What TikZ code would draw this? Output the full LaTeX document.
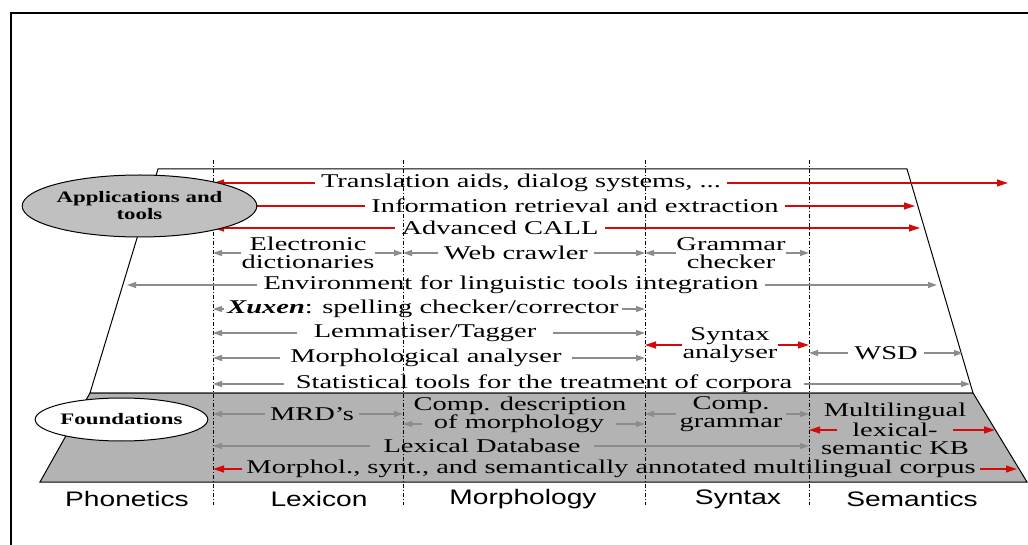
\documentclass[tikz,border=0pt]{standalone}
\usepackage{fontspec}
\setmainfont{Liberation Serif}
\setsansfont{Liberation Sans}
\usetikzlibrary{arrows.meta,shapes.geometric}
\definecolor{rr}{RGB}{210,10,10}
\definecolor{gg}{RGB}{140,140,140}
\definecolor{shadegray}{RGB}{179,179,179}
\definecolor{ellfill}{RGB}{192,192,192}
\begin{document}
\begin{tikzpicture}[x=1pt,y=-1pt,
  txt/.style={font=\fontsize{19.5}{18.5}\selectfont, xscale=1.46, align=center, inner xsep=4pt, inner ysep=1pt},
  lab/.style={font=\sffamily\fontsize{21}{21}\selectfont, xscale=1.34, inner sep=0pt},
  ra/.style={draw=rr, line width=1.2pt, -{Triangle[length=11pt,width=7pt]}},
  ga/.style={draw=gg, line width=1.2pt, -{Triangle[length=9pt,width=6pt]}},
  vl/.style={line width=0.7pt, dash pattern=on 4pt off 2pt on 1pt off 2pt},
  ell/.style={ellipse, draw, line width=1pt, xscale=1.43, inner sep=0pt, align=center, font=\bfseries\fontsize{16}{17}\selectfont}
  ]
\useasboundingbox (0,0) rectangle (1028,545);
% frame
\draw[line width=2pt] (11,545) -- (11,13) -- (1028,13);
% trapezoids
\draw[line width=1pt, fill=white] (158,169) -- (907,169) -- (973,393) -- (90,393) -- cycle;
\draw[line width=1pt, fill=shadegray] (90,393) -- (973,393) -- (1027,482) -- (40,482) -- cycle;
% vertical separators
\coordinate (v1) at (213,160); \coordinate (v1b) at (213,505);
\coordinate (v2) at (403,160); \coordinate (v2b) at (403,505);
\coordinate (v3) at (645,160); \coordinate (v3b) at (645,505);
\coordinate (v4) at (809,160); \coordinate (v4b) at (809,505);
\draw[vl] (v1) -- (v1b);
\draw[vl] (v2) -- (v2b);
\draw[vl] (v3) -- (v3b);
\draw[vl] (v4) -- (v4b);
% free arrow ends (x positions)
\coordinate (e1) at (1008,182);
\coordinate (e2) at (915,205);
\coordinate (e3) at (920,227);
\coordinate (e4) at (127,284);
\coordinate (e5) at (937,284);
\coordinate (e6) at (963,352);
\coordinate (e7) at (970,383);
\coordinate (e8) at (995,429);
\coordinate (e9) at (1017,468);
% texts
\node[txt] (trans) at (521,183) {Translation aids, dialog systems, ...};
\node[txt] (info) at (575,206) {Information retrieval and extraction};
\node[txt] (call) at (500,228) {Advanced CALL};
\node[txt, inner xsep=0pt] (edict) at (308,253) {Electronic\\dictionaries};
\node[txt] (web) at (516,253) {Web crawler};
\node[txt, inner xsep=0pt] (gram) at (731,253) {Grammar\\checker};
\node[txt] (env) at (511,285) {Environment for linguistic tools integration};
\node[txt, inner xsep=2pt] (xux) at (423,309) {\textbf{\textit{Xuxen}}: spelling checker/corrector};
\node[txt, inner xsep=11pt] (lem) at (425,333) {Lemmatiser/Tagger};
\node[txt, inner xsep=7pt] (morph) at (426,358) {Morphological analyser};
\node[txt, inner xsep=0pt] (syn) at (730,345) {Syntax\\analyser};
\node[txt] (wsd) at (886,353) {WSD};
\node[txt, inner xsep=8pt] (stat) at (544,384) {Statistical tools for the treatment of corpora};
\node[txt, inner xsep=3pt] (mrd) at (312,414) {MRD's};
\node[txt] (cd1) at (520,406) {Comp. description};
\node[txt, inner xsep=8pt] (cd2) at (519,424) {of morphology};
\node[txt, inner xsep=2pt] (cg) at (731,414) {Comp.\\grammar};
\node[txt] (ml1) at (895,412) {Multilingual};
\node[txt, inner xsep=10pt] (ml2) at (895,430) {lexical-};
\node[txt] (ml3) at (895,448) {semantic KB};
\node[txt, inner xsep=9pt] (lex) at (482,446) {Lexical Database};
\node[txt, inner xsep=3pt] (corp) at (611,469) {Morphol., synt., and semantically annotated multilingual corpus};
% arrows
\draw[ra] (trans.west) -- (trans.west -| v1);
\draw[ra] (trans.east) -- (trans.east -| e1);
\draw[ra] (info.west) -- (info.west -| v1);
\draw[ra] (info.east) -- (info.east -| e2);
\draw[ra] (call.west) -- (call.west -| v1);
\draw[ra] (call.east) -- (call.east -| e3);
\draw[ga] (edict.west) -- (edict.west -| v1);
\draw[ga] (edict.east) -- (edict.east -| v2);
\draw[ga] (web.west) -- (web.west -| v2);
\draw[ga] (web.east) -- (web.east -| v3);
\draw[ga] (gram.west) -- (gram.west -| v3);
\draw[ga] (gram.east) -- (gram.east -| v4);
\draw[ga] (env.west) -- (env.west -| e4);
\draw[ga] (env.east) -- (env.east -| e5);
\draw[ga] (xux.west) -- (xux.west -| v1);
\draw[ga] (xux.east) -- (xux.east -| v3);
\draw[ga] (lem.west) -- (lem.west -| v1);
\draw[ga] (lem.east) -- (lem.east -| v3);
\draw[ga] (morph.west) -- (morph.west -| v1);
\draw[ga] (morph.east) -- (morph.east -| v3);
\draw[ra] (syn.west) -- (syn.west -| v3);
\draw[ra] (syn.east) -- (syn.east -| v4);
\draw[ga] (wsd.west) -- (wsd.west -| v4);
\draw[ga] (wsd.east) -- (wsd.east -| e6);
\draw[ga] (stat.west) -- (stat.west -| v1);
\draw[ga] (stat.east) -- (stat.east -| e7);
\draw[ga] (mrd.west) -- (mrd.west -| v1);
\draw[ga] (mrd.east) -- (mrd.east -| v2);
\draw[ga] (cd2.west) -- (cd2.west -| v2);
\draw[ga] (cd2.east) -- (cd2.east -| v3);
\draw[ga] (cg.west) -- (cg.west -| v3);
\draw[ga] (cg.east) -- (cg.east -| v4);
\draw[ra] (ml2.west) -- (ml2.west -| v4);
\draw[ra] (ml2.east) -- (ml2.east -| e8);
\draw[ga] (lex.west) -- (lex.west -| v1);
\draw[ga] (lex.east) -- (lex.east -| v4);
\draw[ra] (corp.west) -- (corp.west -| v1);
\draw[ra] (corp.east) -- (corp.east -| e9);
% bottom labels
\node[lab] (ph) at (127,499) {Phonetics};
\node[lab] (lx) at (319,499) {Lexicon};
\node[lab] (mo) at (523,499) {Morphology};
\node[lab] (sy) at (738,499) {Syntax};
\node[lab] (se) at (912,499) {Semantics};
% ellipses
\node[ell, fill=ellfill, minimum width=150pt, minimum height=62pt] (apps) at (139.5,206) {Applications and\\tools};
\node[ell, fill=white, minimum width=115pt, minimum height=43pt] (found) at (121.5,419.5) {Foundations};
\end{tikzpicture}
\end{document}
